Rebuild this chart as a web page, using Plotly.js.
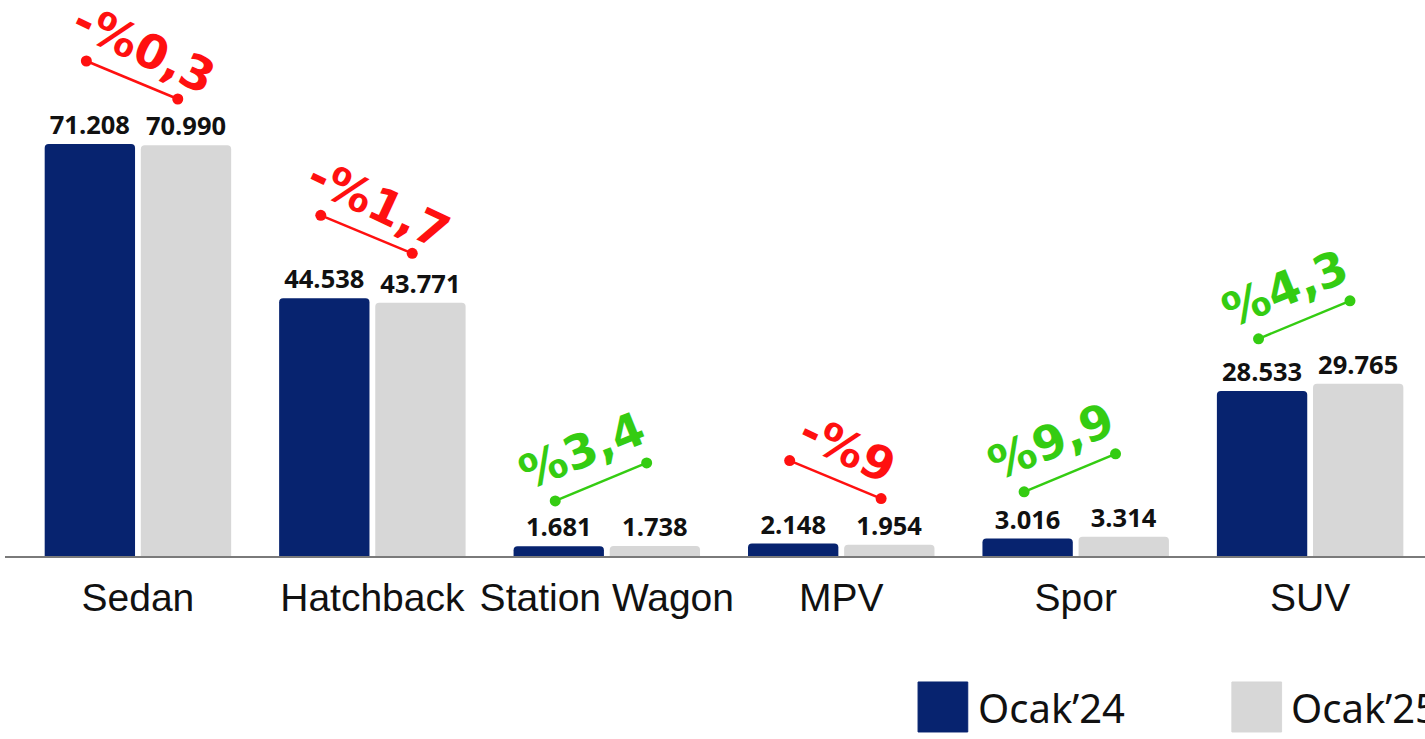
<!DOCTYPE html>
<html>
<head>
<meta charset="utf-8">
<script src="https://cdn.plot.ly/plotly-3.0.1.min.js"></script>
<style>
  html, body { margin: 0; padding: 0; background: #fff; }
  #chart { width: 1425px; height: 739px; }
</style>
</head>
<body>
<div id="chart"></div>
<script>
// veri
const categories = ["Sedan", "Hatchback", "Station Wagon", "MPV", "Spor", "SUV"];
const ocak24 = [71208, 44538, 1681, 2148, 3016, 28533];
const ocak25 = [70990, 43771, 1738, 1954, 3314, 29765];
const changeLabels = ["-%0,3", "-%1,7", "%3,4", "-%9", "%9,9", "%4,3"];
const seriesNames = ["Ocak’24", "Ocak’25"];

const blue = "#07236f";
const grey = "#d7d7d7";
const red = "#ff1010";
const green = "#34cc12";

// sayılar: 71208 -> 71.208
const fmt = (v) => String(v).replace(/\B(?=(\d{3})+(?!\d))/g, ".");

const yMax = 96095;
const plotH = 556;
const pxU = plotH / yMax; // piksel / birim

const barText = {family: "Open Sans", size: 25.5, color: "#111", weight: 700};

const trace24 = {
  x: categories.map((c, i) => i),
  y: ocak24,
  type: "bar",
  name: seriesNames[0],
  marker: {color: blue, cornerradius: 4},
  text: ocak24.map(fmt),
  textposition: "outside",
  textfont: barText,
  constraintext: "none",
  cliponaxis: false,
  hoverinfo: "skip",
};

const trace25 = {
  x: categories.map((c, i) => i),
  y: ocak25,
  type: "bar",
  name: seriesNames[1],
  marker: {color: grey, cornerradius: 4},
  text: ocak25.map(fmt),
  textposition: "outside",
  textfont: barText,
  constraintext: "none",
  cliponaxis: false,
  hoverinfo: "skip",
};

// değişim çizgileri ve yazıları
const lineTraces = [];
const annotations = [];
categories.forEach((c, i) => {
  const top = Math.max(ocak24[i], ocak25[i]);
  const low = top + 45 / pxU;
  const high = top + 83 / pxU;
  const down = ocak25[i] < ocak24[i];
  const col = down ? red : green;
  const y0 = down ? high : low;
  const y1 = down ? low : high;
  lineTraces.push({
    x: [i - 0.22, i + 0.17],
    y: [y0, y1],
    type: "scatter",
    mode: "lines+markers",
    line: {color: col, width: 2.5},
    marker: {color: col, size: 11},
    showlegend: false,
    hoverinfo: "skip",
    cliponaxis: false,
  });
  annotations.push({
    x: i - 0.025,
    y: (y0 + y1) / 2,
    xref: "x",
    yref: "y",
    text: changeLabels[i],
    showarrow: false,
    textangle: down ? 25 : -22,
    xshift: down ? 12 : -19,
    yshift: 31,
    font: {family: "DejaVu Sans", size: 47, color: col, weight: 700},
  });
});

// özel lejant
const legendFont = {family: "Noto Sans", size: 40, color: "#111"};
const legendX = [0.643, 0.864];
const shapes = [];
[blue, grey].forEach((col, k) => {
  shapes.push({
    type: "rect",
    xref: "paper",
    yref: "paper",
    x0: legendX[k],
    x1: legendX[k] + 0.035,
    y0: -0.3165,
    y1: -0.2266,
    fillcolor: col,
    line: {color: col, width: 1},
  });
  annotations.push({
    xref: "paper",
    yref: "paper",
    x: legendX[k] + 0.0405,
    y: -0.2716,
    xanchor: "left",
    yanchor: "middle",
    text: seriesNames[k],
    showarrow: false,
    font: legendFont,
  });
});

const layout = {
  width: 1425,
  height: 739,
  margin: {l: 5, r: 0, t: 0, b: 183},
  paper_bgcolor: "#fff",
  plot_bgcolor: "#fff",
  barmode: "group",
  bargap: 0.18,
  bargroupgap: 0.06,
  showlegend: false,
  xaxis: {
    range: [-0.567, 5.49],
    tickvals: categories.map((c, i) => i),
    ticktext: categories,
    ticks: "",
    showgrid: false,
    zeroline: false,
    showline: true,
    linecolor: "#7a7a7a",
    linewidth: 2,
    tickfont: {family: "Liberation Sans", size: 39, color: "#111"},
    ticklabelstandoff: 6,
  },
  yaxis: {
    range: [0, yMax],
    visible: false,
    showgrid: false,
    zeroline: false,
  },
  shapes: shapes,
  annotations: annotations,
};

Plotly.newPlot("chart", [trace24, trace25, ...lineTraces], layout, {displayModeBar: false, staticPlot: true});
</script>
</body>
</html>
